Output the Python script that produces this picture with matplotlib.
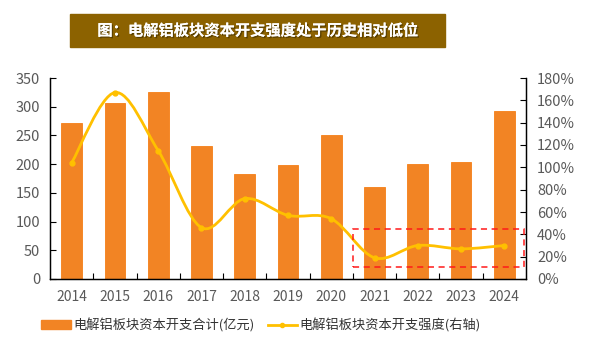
import matplotlib.pyplot as plt
import matplotlib.patches as mpatches
import matplotlib.patheffects as pe
from matplotlib.path import Path
from matplotlib.lines import Line2D
import numpy as np

plt.rcParams['font.family'] = ['Noto Sans CJK SC', 'DejaVu Sans']

years = ['2014', '2015', '2016', '2017', '2018', '2019', '2020', '2021', '2022', '2023', '2024']
capex = [271, 307, 325, 232, 183, 199, 251, 160, 201, 203, 292]        # 亿元
intensity = [104, 167, 115, 46, 72, 57, 54, 19, 30, 27, 30]              # %

bar_color = '#F28424'
line_color = '#FFC000'
tick_color = '#595959'

fig = plt.figure(figsize=(5.93, 3.38), dpi=100)
ax = fig.add_axes([50 / 593, 1 - 279 / 338, 476 / 593, 201 / 338])
ax2 = ax.twinx()

x = np.arange(len(years))
ax.bar(x, capex, width=0.48, color=bar_color, edgecolor='#F57F17', linewidth=0.6, zorder=2)
ax.set_xlim(-0.5, len(years) - 0.5)
ax.set_ylim(0, 350)
ax.set_yticks(range(0, 351, 50))
ax.set_xticks(x)
ax.set_xticklabels(years)
ax.set_xticks(np.arange(0.5, len(years) - 1, 1), minor=True)
ax.tick_params(axis='x', which='major', length=0, pad=8, labelsize=10, labelcolor=tick_color)
ax.tick_params(axis='x', which='minor', direction='in', length=4, width=0.8)
ax.tick_params(axis='y', direction='in', length=4, width=0.8, labelsize=10.5, labelcolor=tick_color, pad=7)

# smooth curve through the points (Catmull-Rom as cubic Bezier)
pts = np.column_stack([x, intensity]).astype(float)
verts = [pts[0]]
codes = [Path.MOVETO]
for i in range(len(pts) - 1):
    p0 = pts[i - 1] if i > 0 else pts[i]
    p1, p2 = pts[i], pts[i + 1]
    p3 = pts[i + 2] if i + 2 < len(pts) else pts[i + 1]
    verts += [p1 + (p2 - p0) / 6, p2 - (p3 - p1) / 6, p2]
    codes += [Path.CURVE4] * 3
ax2.add_patch(mpatches.PathPatch(Path(verts, codes), fill=False, edgecolor=line_color, lw=2, zorder=3))
ax2.plot(x, intensity, 'o', color=line_color, ms=3.5, zorder=4)

ax2.set_ylim(0, 180)
ax2.set_yticks(range(0, 181, 20))
ax2.set_yticklabels([f'{v}%' for v in range(0, 181, 20)])
ax2.tick_params(axis='y', direction='in', length=4, width=0.8, labelsize=10.5, labelcolor=tick_color, pad=8)

for a in (ax, ax2):
    a.spines['top'].set_visible(False)
    for s in ('left', 'right', 'bottom'):
        a.spines[s].set_linewidth(0.9)
ax2.add_patch(mpatches.Rectangle((6.5, 10.5), 3.95, 34.3, fill=False, edgecolor='#FF1A1A',
                                 linestyle=(0, (4, 3)), lw=1.1, zorder=5))

# title box
fig.patches.append(mpatches.Rectangle((70 / 593, 1 - 47 / 338), 375 / 593, 33 / 338,
                                      transform=fig.transFigure, color='#8C6200'))
fig.text(257.5 / 593, 1 - 30.5 / 338, '图：电解铝板块资本开支强度处于历史相对低位', ha='center', va='center',
         color='white', fontsize=11, fontweight='bold',
         path_effects=[pe.withSimplePatchShadow(offset=(1, -1), shadow_rgbFace='#3a2a00', alpha=0.6), pe.Normal()])

handles = [mpatches.Patch(color=bar_color),
           Line2D([0], [0], color=line_color, lw=2, marker='o', ms=3)]
labels = ['电解铝板块资本开支合计(亿元)', '电解铝板块资本开支强度(右轴)']
fig.legend(handles, labels, loc='center', bbox_to_anchor=(261 / 593, 1 - 325 / 338), ncol=2, frameon=False,
           fontsize=9.5, handlelength=2.2, handleheight=0.6, columnspacing=1.0, handletextpad=0.2,
           labelcolor='#333333')

fig.savefig('out.png', dpi=100)
